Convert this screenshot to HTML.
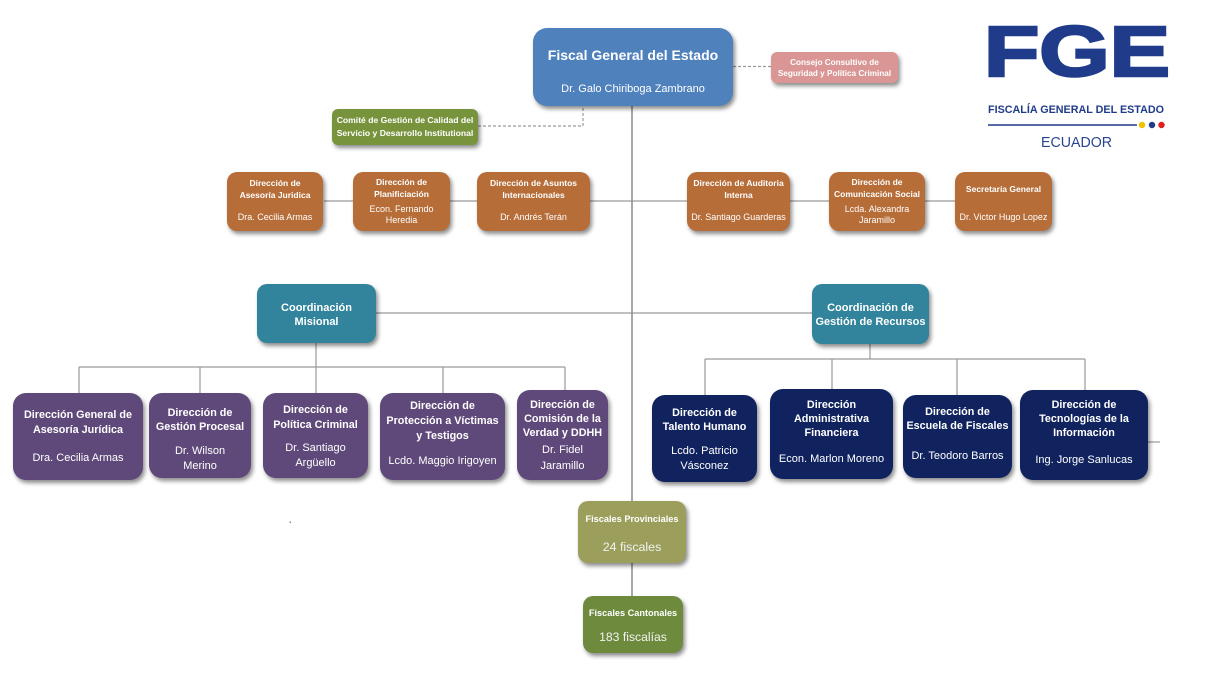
<!DOCTYPE html>
<html><head><meta charset="utf-8"><style>
html,body{margin:0;padding:0;background:#fff}
body{width:1211px;height:696px;position:relative;overflow:hidden;font-family:"Liberation Sans",sans-serif}
svg.lines{position:absolute;left:0;top:0}
.b{position:absolute;color:#fff;box-shadow:2px 3px 4px rgba(0,0,0,.45);text-align:center}
.t,.n{position:absolute;left:0;right:0;text-align:center;white-space:nowrap}
.o{background:#b66d38;border-radius:10px;top:172px;height:59px}
.o .t{font-weight:bold;font-size:8.5px;line-height:12px}
.o .n{font-size:9px;line-height:12px}
.p{background:#5f497a;border-radius:13px}
.v{background:#10235f;border-radius:13px}
.p .t,.v .t{font-weight:bold;font-size:10.8px}
.p .n,.v .n{font-size:11px}
.c{background:#31849b;border-radius:10px;top:284px}
.c .t{font-weight:bold;font-size:11px;line-height:14px;top:17px}
</style></head><body>
<svg class="lines" width="1211" height="696">
 <g fill="none" stroke="#9a9a9a" stroke-width="1.2">
  <path d="M733 66.5H771" stroke-dasharray="3,2"/>
  <path d="M478 126H583V106" stroke-dasharray="3,2"/>
  <path d="M324 201H955"/>
  <path d="M376 313H812"/>
  <path d="M316 343V367M79 367H565M79 367V393M200 367V393M316 367V393M443 367V393M565 367V390"/>
  <path d="M870 344V359M705 359H1085M705 359V395M832 359V389M957 359V395M1085 359V390"/>
  <path d="M1148 442H1160"/>
 </g>
 <path d="M632 106V501M632 563V596" stroke="#8a8a8a" stroke-width="1.5" fill="none"/>
 <rect x="289.5" y="521.5" width="1.5" height="1.5" fill="#888"/>
 <!-- logo -->
 <text x="984" y="76" font-family="Liberation Sans" font-weight="bold" font-size="71" fill="#1f3b8a" stroke="#1f3b8a" stroke-width="2.5" textLength="186" lengthAdjust="spacingAndGlyphs">FGE</text>
 <text x="988" y="113" font-family="Liberation Sans" font-weight="bold" font-size="11.4" fill="#1f3b8a" textLength="176" lengthAdjust="spacingAndGlyphs">FISCALÍA GENERAL DEL ESTADO</text>
 <line x1="988" y1="125" x2="1137" y2="125" stroke="#1f3b8a" stroke-width="1.5"/>
 <circle cx="1142" cy="125" r="3.2" fill="#f2c200"/>
 <circle cx="1152" cy="125" r="3.2" fill="#1f3b8a"/>
 <circle cx="1161.5" cy="125" r="3.2" fill="#e0201b"/>
 <text x="1041" y="147" font-family="Liberation Sans" font-size="14.6" fill="#2a4590" textLength="71" lengthAdjust="spacingAndGlyphs">ECUADOR</text>
</svg>

<!-- Fiscal General -->
<div class="b" style="left:533px;top:28px;width:200px;height:78px;background:#4f81bd;border-radius:14px">
 <div class="t" style="top:19px;font-weight:bold;font-size:14px;line-height:16px">Fiscal General del Estado</div>
 <div class="n" style="top:54px;font-size:11px;line-height:14px">Dr. Galo Chiriboga Zambrano</div>
</div>
<div class="b" style="left:771px;top:52px;width:127px;height:31px;background:#d99694;border-radius:6px">
 <div class="t" style="top:4.5px;font-weight:bold;font-size:8.2px;line-height:11px">Consejo Consultivo de<br>Seguridad y Política Criminal</div>
</div>
<div class="b" style="left:332px;top:109px;width:146px;height:36px;background:#77933c;border-radius:6px">
 <div class="t" style="top:4.5px;font-weight:bold;font-size:8.6px;line-height:13px">Comité de Gestión de Calidad del<br>Servicio y Desarrollo Institutional</div>
</div>

<!-- Orange row -->
<div class="b o" style="left:227px;width:96px">
 <div class="t" style="top:5.3px">Dirección de<br>Asesoría Juridica</div>
 <div class="n" style="top:38.7px">Dra. Cecilia Armas</div>
</div>
<div class="b o" style="left:353px;width:97px">
 <div class="t" style="top:3.5px;line-height:12.5px">Dirección de<br>Planificiación</div>
 <div class="n" style="top:31.5px;line-height:11.7px">Econ. Fernando<br>Heredia</div>
</div>
<div class="b o" style="left:477px;width:113px">
 <div class="t" style="top:5.3px">Dirección de Asuntos<br>Internacionales</div>
 <div class="n" style="top:38.7px">Dr. Andrés Terán</div>
</div>
<div class="b o" style="left:687px;width:103px">
 <div class="t" style="top:5.3px">Dirección de Auditoria<br>Interna</div>
 <div class="n" style="top:38.7px">Dr. Santiago Guarderas</div>
</div>
<div class="b o" style="left:829px;width:96px">
 <div class="t" style="top:3.5px;line-height:12.5px">Dirección de<br>Comunicación Social</div>
 <div class="n" style="top:31.5px;line-height:11.7px">Lcda. Alexandra<br>Jaramillo</div>
</div>
<div class="b o" style="left:955px;width:97px">
 <div class="t" style="top:11.3px">Secretaría General</div>
 <div class="n" style="top:38.7px">Dr. Victor Hugo Lopez</div>
</div>

<!-- Coordinations -->
<div class="b c" style="left:257px;width:119px;height:59px">
 <div class="t">Coordinación<br>Misional</div>
</div>
<div class="b c" style="left:812px;width:117px;height:60px">
 <div class="t">Coordinación de<br>Gestión de Recursos</div>
</div>

<!-- Purple row -->
<div class="b p" style="left:13px;top:393px;width:130px;height:87px">
 <div class="t" style="top:14.5px;line-height:15px">Dirección General de<br>Asesoría Jurídica</div>
 <div class="n" style="top:57.5px;line-height:15px">Dra. Cecilia Armas</div>
</div>
<div class="b p" style="left:149px;top:393px;width:102px;height:85px">
 <div class="t" style="top:13.3px;line-height:14px">Dirección de<br>Gestión Procesal</div>
 <div class="n" style="top:51.2px;line-height:15px">Dr. Wilson<br>Merino</div>
</div>
<div class="b p" style="left:263px;top:393px;width:105px;height:85px">
 <div class="t" style="top:9.5px;line-height:15px">Dirección de<br>Política Criminal</div>
 <div class="n" style="top:48.1px;line-height:14.4px">Dr. Santiago<br>Argüello</div>
</div>
<div class="b p" style="left:380px;top:393px;width:125px;height:87px">
 <div class="t" style="top:6.3px;line-height:14.7px">Dirección de<br>Protección a Víctimas<br>y Testigos</div>
 <div class="n" style="top:60.5px;line-height:15px">Lcdo. Maggio Irigoyen</div>
</div>
<div class="b p" style="left:517px;top:390px;width:91px;height:90px">
 <div class="t" style="top:7.9px;line-height:14.2px">Dirección de<br>Comisión de la<br>Verdad y DDHH</div>
 <div class="n" style="top:53.2px;line-height:15.7px">Dr. Fidel<br>Jaramillo</div>
</div>

<!-- Navy row -->
<div class="b v" style="left:652px;top:395px;width:105px;height:87px">
 <div class="t" style="top:10.7px;line-height:14px">Dirección de<br>Talento Humano</div>
 <div class="n" style="top:49.2px;line-height:15px">Lcdo. Patricio<br>Vásconez</div>
</div>
<div class="b v" style="left:770px;top:389px;width:123px;height:90px">
 <div class="t" style="top:8.9px;line-height:14.2px">Dirección<br>Administrativa<br>Financiera</div>
 <div class="n" style="top:62.8px;line-height:15px">Econ. Marlon Moreno</div>
</div>
<div class="b v" style="left:903px;top:395px;width:109px;height:83px">
 <div class="t" style="top:9.7px;line-height:14px">Dirección de<br>Escuela de Fiscales</div>
 <div class="n" style="top:53.5px;line-height:15px">Dr. Teodoro Barros</div>
</div>
<div class="b v" style="left:1020px;top:390px;width:128px;height:90px">
 <div class="t" style="top:7.9px;line-height:14.2px">Dirección de<br>Tecnologías de la<br>Información</div>
 <div class="n" style="top:62.5px;line-height:15px">Ing. Jorge Sanlucas</div>
</div>

<!-- Fiscales -->
<div class="b" style="left:578px;top:501px;width:108px;height:62px;background:#9b9f5b;border-radius:10px">
 <div class="t" style="top:12.3px;font-weight:bold;font-size:9.2px;line-height:12px">Fiscales Provinciales</div>
 <div class="n" style="top:38.3px;font-size:12.4px;line-height:16px;color:#f2f2f2">24 fiscales</div>
</div>
<div class="b" style="left:583px;top:596px;width:100px;height:57px;background:#6e8b3d;border-radius:10px">
 <div class="t" style="top:10.7px;font-weight:bold;font-size:9.2px;line-height:12px">Fiscales Cantonales</div>
 <div class="n" style="top:33.3px;font-size:12.2px;line-height:16px;color:#f2f2f2">183 fiscalías</div>
</div>
</body></html>
